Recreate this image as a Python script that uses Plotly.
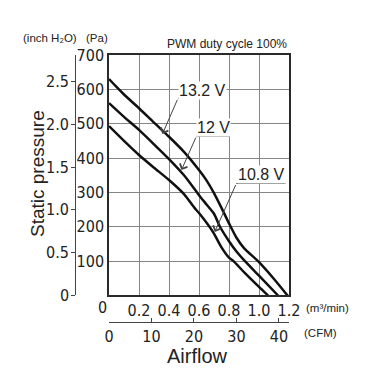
import plotly.graph_objects as go

# ---- data ----
flow_132 = [0.0, 0.05, 0.1, 0.2, 0.3, 0.4, 0.5, 0.6, 0.65, 0.7, 0.75, 0.8, 0.85, 0.9, 1.0, 1.1, 1.19]
pa_132   = [630, 607, 585, 545, 503, 462, 418, 365, 335, 298, 255, 210, 168, 138, 97, 48, 0]
flow_12  = [0.0, 0.1, 0.2, 0.3, 0.4, 0.5, 0.57, 0.6, 0.65, 0.7, 0.74, 0.8, 0.85, 0.9, 1.0, 1.127]
pa_12    = [560, 520, 482, 440, 397, 350, 310, 292, 265, 238, 200, 158, 128, 103, 58, 0]
flow_108 = [0.0, 0.1, 0.2, 0.3, 0.4, 0.5, 0.57, 0.6, 0.67, 0.7, 0.75, 0.8, 0.83, 0.9, 1.0, 1.06]
pa_108   = [493, 450, 409, 372, 336, 295, 255, 240, 200, 180, 140, 110, 100, 68, 25, 0]

x_ticks = [0.2, 0.4, 0.6, 0.8, 1.0, 1.2]
x_ticklabels = ["0.2", "0.4", "0.6", "0.8", "1.0", "1.2"]
pa_ticks = [100, 200, 300, 400, 500, 600, 700]
inch_ticks = [0, 0.5, 1.0, 1.5, 2.0, 2.5]
inch_ticklabels = ["0", "0.5", "1.0", "1.5", "2.0", "2.5"]
cfm_ticks = [0, 10, 20, 30, 40]

PA_PER_INCH = 249.089
M3MIN_PER_CFM = 0.0283168

# labels: (text, text_x, text_y, underline_x0, underline_x1, underline_y, tip_x, tip_y)
labels = [
    ("13.2 V", 0.625, 597, 0.46, 0.778, 574, 0.356, 470),
    ("12 V", 0.699, 489, 0.583, 0.805, 464, 0.483, 365),
    ("10.8 V", 1.018, 351, 0.849, 1.176, 326, 0.705, 185),
]

NARROW = "Liberation Sans Narrow, DejaVu Sans Condensed, Arial Narrow, sans-serif"
SANS = "Liberation Sans, Arial, Helvetica, sans-serif"

W, H, L, R, T, B = 372, 389, 20, 83, 55, 20
pw, ph = W - L - R, H - T - B

fig = go.Figure()
for fx, py in [(flow_132, pa_132), (flow_12, pa_12), (flow_108, pa_108)]:
    fig.add_trace(go.Scatter(x=fx, y=py, mode="lines",
                             line=dict(color="#111111", width=2.5, shape="spline", smoothing=0.6),
                             showlegend=False, hoverinfo="skip"))
# dummy trace to create secondary axes
fig.add_trace(go.Scatter(x=[], y=[], xaxis="x2", yaxis="y2", showlegend=False))

grid = "#858585"
frame = "#2a2a2a"
fig.update_layout(
    width=W, height=H,
    margin=dict(l=L, r=R, t=T, b=B),
    plot_bgcolor="white", paper_bgcolor="white",
    xaxis=dict(domain=[0.3309, 1], range=[0, 1.2], tickvals=x_ticks, ticktext=x_ticklabels,
               showgrid=True, gridcolor=grid, gridwidth=1.3, zeroline=False,
               showline=True, linecolor=frame, linewidth=1.5, mirror=True,
               ticks="", tickfont=dict(family=NARROW, size=16, color="#222")),
    yaxis=dict(domain=[0.2341, 1], range=[0, 700], tickvals=pa_ticks,
               showgrid=True, gridcolor=grid, gridwidth=1.3, zeroline=False,
               showline=True, linecolor=frame, linewidth=1.5, mirror=True,
               ticks="", tickfont=dict(family=NARROW, size=16, color="#222")),
    yaxis2=dict(overlaying="y", anchor="free", position=(74.5 - L) / pw, side="left",
                domain=[0.2341, 1], range=[0, 700 / PA_PER_INCH],
                tickvals=inch_ticks, showticklabels=False,
                showgrid=False, zeroline=False, showline=True, linecolor="#444", linewidth=1,
                ticks="outside", ticklen=4, tickcolor="#444"),
    xaxis2=dict(overlaying="x", anchor="free", position=0.1506, side="bottom",
                domain=[0.3309, 1], range=[0, 1.2 / M3MIN_PER_CFM],
                tickvals=cfm_ticks, showgrid=False, zeroline=False,
                showline=True, linecolor="#444", linewidth=1,
                ticks="inside", ticklen=4, tickcolor="#444",
                tickfont=dict(family=NARROW, size=16, color="#222")),
)

ann = []
shapes = []
for txt, tx, ty, ux0, ux1, uy, px, py in labels:
    ann.append(dict(x=tx, y=ty, xref="x", yref="y", text=txt, showarrow=False,
                    font=dict(family=SANS, size=16, color="#222"), bgcolor="white", borderpad=0))
    shapes.append(dict(type="line", xref="x", yref="y", x0=ux0, x1=ux1, y0=uy, y1=uy,
                       line=dict(color="#444", width=1)))
    ann.append(dict(x=px, y=py, xref="x", yref="y", ax=ux0, ay=uy, axref="x", ayref="y",
                    text="", showarrow=True, arrowhead=4, arrowsize=1.6, arrowwidth=1,
                    arrowcolor="#444"))

# inch H2O tick labels
for v, t in zip(inch_ticks, inch_ticklabels):
    ann.append(dict(x=(70.5 - L) / pw, y=v, xref="paper", yref="y2", text=t, showarrow=False,
                    xanchor="right", yanchor="middle",
                    font=dict(family=NARROW, size=16, color="#222")))

small = dict(family=SANS, size=11.5, color="#222")
px_ann = [
    dict(x=50, y=38.5, text="(inch H₂O)", showarrow=False, font=small),
    dict(x=97, y=38.5, text="(Pa)", showarrow=False, font=small),
    dict(x=227, y=43.5, text="PWM duty cycle 100%", showarrow=False,
         font=dict(family=SANS, size=12, color="#222")),
    dict(x=102.5, y=307, text="0", showarrow=False,
         font=dict(family=NARROW, size=16, color="#222")),
    dict(x=327.5, y=307.7, text="(m³/min)", showarrow=False, font=small),
    dict(x=320.5, y=333.3, text="(CFM)", showarrow=False, font=small),
    dict(x=197, y=356, text="Airflow", showarrow=False,
         font=dict(family=SANS, size=20, color="#222")),
    dict(x=37, y=174, text="Static pressure", showarrow=False,
         textangle=-90, font=dict(family=SANS, size=19, color="#222")),
]
for a in px_ann:
    a["x"] = (a["x"] - L) / pw
    a["y"] = 1 - (a["y"] - T) / ph
    a["xref"] = "paper"
    a["yref"] = "paper"
    a["xanchor"] = "center"
    a["yanchor"] = "middle"
ann += px_ann

fig.update_layout(annotations=ann, shapes=shapes)
fig.write_html("out.html")
